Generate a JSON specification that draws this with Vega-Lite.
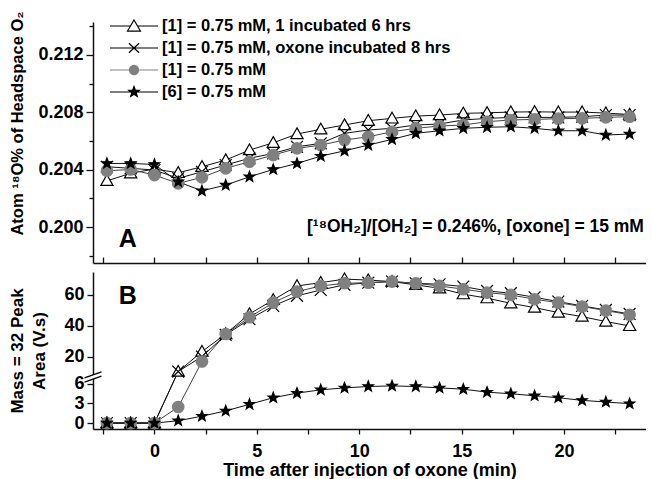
{
  "$schema": "https://vega.github.io/schema/vega-lite/v6.json",
  "background": "white",
  "autosize": {"type": "pad"},
  "padding": {"left": 8, "top": 10, "right": 0, "bottom": 0},
  "spacing": 9,
  "bounds": "flush",
  "datasets": {
    "d": [
      {"s": "[1] = 0.75 mM, 1 incubated 6 hrs", "t": -2.32, "o18": 0.20323, "area": 0},
      {"s": "[1] = 0.75 mM, 1 incubated 6 hrs", "t": -1.16, "o18": 0.20375, "area": 0},
      {"s": "[1] = 0.75 mM, 1 incubated 6 hrs", "t": 0, "o18": 0.20405, "area": 0},
      {"s": "[1] = 0.75 mM, 1 incubated 6 hrs", "t": 1.16, "o18": 0.20379, "area": 10.5},
      {"s": "[1] = 0.75 mM, 1 incubated 6 hrs", "t": 2.32, "o18": 0.20421, "area": 23.4},
      {"s": "[1] = 0.75 mM, 1 incubated 6 hrs", "t": 3.48, "o18": 0.20468, "area": 34.8},
      {"s": "[1] = 0.75 mM, 1 incubated 6 hrs", "t": 4.64, "o18": 0.20537, "area": 47.7},
      {"s": "[1] = 0.75 mM, 1 incubated 6 hrs", "t": 5.8, "o18": 0.20588, "area": 56.8},
      {"s": "[1] = 0.75 mM, 1 incubated 6 hrs", "t": 6.96, "o18": 0.20649, "area": 65.8},
      {"s": "[1] = 0.75 mM, 1 incubated 6 hrs", "t": 8.12, "o18": 0.20682, "area": 67.9},
      {"s": "[1] = 0.75 mM, 1 incubated 6 hrs", "t": 9.28, "o18": 0.20712, "area": 70.2},
      {"s": "[1] = 0.75 mM, 1 incubated 6 hrs", "t": 10.44, "o18": 0.20742, "area": 69.6},
      {"s": "[1] = 0.75 mM, 1 incubated 6 hrs", "t": 11.6, "o18": 0.20758, "area": 68.6},
      {"s": "[1] = 0.75 mM, 1 incubated 6 hrs", "t": 12.76, "o18": 0.20774, "area": 66.5},
      {"s": "[1] = 0.75 mM, 1 incubated 6 hrs", "t": 13.92, "o18": 0.20781, "area": 64.3},
      {"s": "[1] = 0.75 mM, 1 incubated 6 hrs", "t": 15.08, "o18": 0.20793, "area": 60.5},
      {"s": "[1] = 0.75 mM, 1 incubated 6 hrs", "t": 16.24, "o18": 0.20797, "area": 57.9},
      {"s": "[1] = 0.75 mM, 1 incubated 6 hrs", "t": 17.4, "o18": 0.20802, "area": 54.6},
      {"s": "[1] = 0.75 mM, 1 incubated 6 hrs", "t": 18.56, "o18": 0.20804, "area": 51.8},
      {"s": "[1] = 0.75 mM, 1 incubated 6 hrs", "t": 19.72, "o18": 0.20802, "area": 48.6},
      {"s": "[1] = 0.75 mM, 1 incubated 6 hrs", "t": 20.88, "o18": 0.20802, "area": 46},
      {"s": "[1] = 0.75 mM, 1 incubated 6 hrs", "t": 22.04, "o18": 0.20795, "area": 42.8},
      {"s": "[1] = 0.75 mM, 1 incubated 6 hrs", "t": 23.2, "o18": 0.20785, "area": 40},
      {"s": "[1] = 0.75 mM, oxone incubated 8 hrs", "t": -2.32, "o18": 0.20421, "area": 0},
      {"s": "[1] = 0.75 mM, oxone incubated 8 hrs", "t": -1.16, "o18": 0.2041, "area": 0},
      {"s": "[1] = 0.75 mM, oxone incubated 8 hrs", "t": 0, "o18": 0.20398, "area": 0},
      {"s": "[1] = 0.75 mM, oxone incubated 8 hrs", "t": 1.16, "o18": 0.2034, "area": 10.5},
      {"s": "[1] = 0.75 mM, oxone incubated 8 hrs", "t": 2.32, "o18": 0.20386, "area": 20.2},
      {"s": "[1] = 0.75 mM, oxone incubated 8 hrs", "t": 3.48, "o18": 0.20433, "area": 34.2},
      {"s": "[1] = 0.75 mM, oxone incubated 8 hrs", "t": 4.64, "o18": 0.2048, "area": 44.3},
      {"s": "[1] = 0.75 mM, oxone incubated 8 hrs", "t": 5.8, "o18": 0.20514, "area": 52.9},
      {"s": "[1] = 0.75 mM, oxone incubated 8 hrs", "t": 6.96, "o18": 0.2056, "area": 59.4},
      {"s": "[1] = 0.75 mM, oxone incubated 8 hrs", "t": 8.12, "o18": 0.20584, "area": 63.2},
      {"s": "[1] = 0.75 mM, oxone incubated 8 hrs", "t": 9.28, "o18": 0.20654, "area": 66.5},
      {"s": "[1] = 0.75 mM, oxone incubated 8 hrs", "t": 10.44, "o18": 0.20677, "area": 67.9},
      {"s": "[1] = 0.75 mM, oxone incubated 8 hrs", "t": 11.6, "o18": 0.20689, "area": 68.6},
      {"s": "[1] = 0.75 mM, oxone incubated 8 hrs", "t": 12.76, "o18": 0.20712, "area": 67.5},
      {"s": "[1] = 0.75 mM, oxone incubated 8 hrs", "t": 13.92, "o18": 0.20719, "area": 66.9},
      {"s": "[1] = 0.75 mM, oxone incubated 8 hrs", "t": 15.08, "o18": 0.20747, "area": 65.4},
      {"s": "[1] = 0.75 mM, oxone incubated 8 hrs", "t": 16.24, "o18": 0.20758, "area": 62.6},
      {"s": "[1] = 0.75 mM, oxone incubated 8 hrs", "t": 17.4, "o18": 0.20765, "area": 61.1},
      {"s": "[1] = 0.75 mM, oxone incubated 8 hrs", "t": 18.56, "o18": 0.20765, "area": 58.5},
      {"s": "[1] = 0.75 mM, oxone incubated 8 hrs", "t": 19.72, "o18": 0.20765, "area": 55.7},
      {"s": "[1] = 0.75 mM, oxone incubated 8 hrs", "t": 20.88, "o18": 0.2077, "area": 52.9},
      {"s": "[1] = 0.75 mM, oxone incubated 8 hrs", "t": 22.04, "o18": 0.20781, "area": 50.3},
      {"s": "[1] = 0.75 mM, oxone incubated 8 hrs", "t": 23.2, "o18": 0.20781, "area": 47.7},
      {"s": "[1] = 0.75 mM", "t": -2.32, "o18": 0.20393, "area": 0},
      {"s": "[1] = 0.75 mM", "t": -1.16, "o18": 0.20402, "area": 0},
      {"s": "[1] = 0.75 mM", "t": 0, "o18": 0.20363, "area": 0},
      {"s": "[1] = 0.75 mM", "t": 1.16, "o18": 0.20305, "area": 2.44},
      {"s": "[1] = 0.75 mM", "t": 2.32, "o18": 0.20347, "area": 17},
      {"s": "[1] = 0.75 mM", "t": 3.48, "o18": 0.2041, "area": 34.8},
      {"s": "[1] = 0.75 mM", "t": 4.64, "o18": 0.20456, "area": 45.6},
      {"s": "[1] = 0.75 mM", "t": 5.8, "o18": 0.20502, "area": 55},
      {"s": "[1] = 0.75 mM", "t": 6.96, "o18": 0.20549, "area": 62.1},
      {"s": "[1] = 0.75 mM", "t": 8.12, "o18": 0.20572, "area": 65.8},
      {"s": "[1] = 0.75 mM", "t": 9.28, "o18": 0.20607, "area": 67.5},
      {"s": "[1] = 0.75 mM", "t": 10.44, "o18": 0.2063, "area": 67.9},
      {"s": "[1] = 0.75 mM", "t": 11.6, "o18": 0.20665, "area": 68.6},
      {"s": "[1] = 0.75 mM", "t": 12.76, "o18": 0.20689, "area": 67.5},
      {"s": "[1] = 0.75 mM", "t": 13.92, "o18": 0.20705, "area": 65.8},
      {"s": "[1] = 0.75 mM", "t": 15.08, "o18": 0.20712, "area": 63.7},
      {"s": "[1] = 0.75 mM", "t": 16.24, "o18": 0.20735, "area": 61.5},
      {"s": "[1] = 0.75 mM", "t": 17.4, "o18": 0.20747, "area": 60},
      {"s": "[1] = 0.75 mM", "t": 18.56, "o18": 0.20751, "area": 57.2},
      {"s": "[1] = 0.75 mM", "t": 19.72, "o18": 0.20756, "area": 55},
      {"s": "[1] = 0.75 mM", "t": 20.88, "o18": 0.20758, "area": 52.5},
      {"s": "[1] = 0.75 mM", "t": 22.04, "o18": 0.20765, "area": 49.9},
      {"s": "[1] = 0.75 mM", "t": 23.2, "o18": 0.2077, "area": 47.2},
      {"s": "[6] = 0.75 mM", "t": -2.32, "o18": 0.20444, "area": 0},
      {"s": "[6] = 0.75 mM", "t": -1.16, "o18": 0.20444, "area": 0},
      {"s": "[6] = 0.75 mM", "t": 0, "o18": 0.20437, "area": 0},
      {"s": "[6] = 0.75 mM", "t": 1.16, "o18": 0.20316, "area": 0.35},
      {"s": "[6] = 0.75 mM", "t": 2.32, "o18": 0.20253, "area": 1.05},
      {"s": "[6] = 0.75 mM", "t": 3.48, "o18": 0.20293, "area": 1.85},
      {"s": "[6] = 0.75 mM", "t": 4.64, "o18": 0.20351, "area": 2.85},
      {"s": "[6] = 0.75 mM", "t": 5.8, "o18": 0.20402, "area": 3.85},
      {"s": "[6] = 0.75 mM", "t": 6.96, "o18": 0.20444, "area": 4.55},
      {"s": "[6] = 0.75 mM", "t": 8.12, "o18": 0.20495, "area": 5.05},
      {"s": "[6] = 0.75 mM", "t": 9.28, "o18": 0.20532, "area": 5.35},
      {"s": "[6] = 0.75 mM", "t": 10.44, "o18": 0.20572, "area": 5.55},
      {"s": "[6] = 0.75 mM", "t": 11.6, "o18": 0.20612, "area": 5.65},
      {"s": "[6] = 0.75 mM", "t": 12.76, "o18": 0.20654, "area": 5.55},
      {"s": "[6] = 0.75 mM", "t": 13.92, "o18": 0.20672, "area": 5.35},
      {"s": "[6] = 0.75 mM", "t": 15.08, "o18": 0.20689, "area": 5.15},
      {"s": "[6] = 0.75 mM", "t": 16.24, "o18": 0.20696, "area": 4.7},
      {"s": "[6] = 0.75 mM", "t": 17.4, "o18": 0.207, "area": 4.45},
      {"s": "[6] = 0.75 mM", "t": 18.56, "o18": 0.20689, "area": 4.15},
      {"s": "[6] = 0.75 mM", "t": 19.72, "o18": 0.20672, "area": 3.85},
      {"s": "[6] = 0.75 mM", "t": 20.88, "o18": 0.20672, "area": 3.45},
      {"s": "[6] = 0.75 mM", "t": 22.04, "o18": 0.20642, "area": 3.2},
      {"s": "[6] = 0.75 mM", "t": 23.2, "o18": 0.20649, "area": 2.95}
    ],
    "notesA": [
      {"label": "A", "x": -1.3, "y": 0.1992, "kind": "panel"},
      {"label": "[¹⁸OH₂]/[OH₂] = 0.246%, [oxone] = 15 mM", "x": 23.9, "y": 0.2, "kind": "cond"}
    ],
    "notesB": [
      {"label": "B", "x": -1.3, "y": 59.4}
    ],
    "brk": [
      {"x": -3, "y": 7}
    ]
  },
  "data": {"name": "d"},
  "vconcat": [
    {
      "width": 553,
      "height": 241,
      "encoding": {
        "x": {"field": "t", "type": "quantitative",
          "scale": {"domain": [-3, 24], "nice": false, "zero": false},
          "axis": {"title": null, "labels": false, "tickSize": -6,
            "values": [-2.5, 0, 2.5, 5, 7.5, 10, 12.5, 15, 17.5, 20, 22.5]}},
        "y": {"field": "o18", "type": "quantitative",
          "scale": {"domain": [0.1975, 0.2143], "nice": false, "zero": false},
          "axis": {"title": "Atom ¹⁸O% of Headspace O₂",
            "values": [0.198, 0.2, 0.202, 0.204, 0.206, 0.208, 0.21, 0.212, 0.214],
            "labelExpr": "round(datum.value*1000) % 4 == 0 ? format(datum.value, '.3f') : ''",
            "tickSize": {"condition": {"test": "round(datum.value*1000) % 4 == 0", "value": 7}, "value": 4},
            "labelPadding": 3, "titleX": -71, "titleY": 101, "titleBaseline": "alphabetic", "titleAngle": 270, "titleFontSize": 16.5}}
      },
      "layer": [
        {
          "mark": {"type": "line", "strokeWidth": 1},
          "encoding": {
            "stroke": {"field": "s", "type": "nominal", "legend": null,
              "scale": {"domain": ["[1] = 0.75 mM, 1 incubated 6 hrs", "[1] = 0.75 mM, oxone incubated 8 hrs", "[1] = 0.75 mM", "[6] = 0.75 mM"],
                "range": ["#111", "#111", "#444", "#111"]}}
          }
        },
        {
          "mark": {"type": "point", "opacity": 1, "strokeWidth": 1.2},
          "encoding": {
            "shape": {"field": "s", "type": "nominal", "legend": null,
              "scale": {"domain": ["[1] = 0.75 mM, 1 incubated 6 hrs", "[1] = 0.75 mM, oxone incubated 8 hrs", "[1] = 0.75 mM", "[6] = 0.75 mM"],
                "range": ["M0,-1L1,0.75L-1,0.75Z", "M-1,-1L1,1M-1,1L1,-1", "circle", "M0,-1L0.245,-0.337L0.951,-0.309L0.397,0.129L0.588,0.809L0,0.42L-0.588,0.809L-0.397,0.129L-0.951,-0.309L-0.245,-0.337Z"]}},
            "fill": {"field": "s", "type": "nominal", "legend": null,
              "scale": {"domain": ["[1] = 0.75 mM, 1 incubated 6 hrs", "[1] = 0.75 mM, oxone incubated 8 hrs", "[1] = 0.75 mM", "[6] = 0.75 mM"],
                "range": ["white", "transparent", "#808080", "black"]}},
            "stroke": {"field": "s", "type": "nominal", "legend": null,
              "scale": {"domain": ["[1] = 0.75 mM, 1 incubated 6 hrs", "[1] = 0.75 mM, oxone incubated 8 hrs", "[1] = 0.75 mM", "[6] = 0.75 mM"],
                "range": ["black", "black", "#808080", "black"]}},
            "size": {"field": "s", "type": "nominal", "legend": null,
              "scale": {"domain": ["[1] = 0.75 mM, 1 incubated 6 hrs", "[1] = 0.75 mM, oxone incubated 8 hrs", "[1] = 0.75 mM", "[6] = 0.75 mM"],
                "range": [150, 121, 81, 125]}}
          }
        },
        {
          "transform": [{"filter": "false"}],
          "mark": {"type": "point", "opacity": 1},
          "encoding": {
            "shape": {"field": "s", "type": "nominal",
              "scale": {"domain": ["[1] = 0.75 mM, 1 incubated 6 hrs", "[1] = 0.75 mM, oxone incubated 8 hrs", "[1] = 0.75 mM", "[6] = 0.75 mM"],
                "range": [
                  "M-3,0H-1.29M-0.71,0H1M-1,-0.5L-0.46,0.42L-1.54,0.42Z",
                  "M-3,0H1M-1.42,-0.4L-0.58,0.4M-1.42,0.4L-0.58,-0.4",
                  "M-3,0H-1.38M-0.62,0H1M-0.62,0A0.38,0.38,0,1,1,-1.38,0A0.38,0.38,0,1,1,-0.62,0Z",
                  "M-3,0H1M-1,-0.46L-0.887,-0.155L-0.5625,-0.142L-0.817,0.059L-0.73,0.372L-1,0.193L-1.27,0.372L-1.183,0.059L-1.4375,-0.142L-1.113,-0.155Z"]},
              "legend": {"title": null, "orient": "none", "legendX": 40, "legendY": -9,
                "symbolSize": 576, "symbolStrokeWidth": 1.2, "symbolOpacity": 1,
                "labelFontSize": 16.5, "labelFontWeight": "bold", "labelColor": "black", "labelFont": "Liberation Sans",
                "labelOffset": 3, "rowPadding": 0, "padding": 0, "labelLimit": 0}},
            "fill": {"field": "s", "type": "nominal",
              "scale": {"domain": ["[1] = 0.75 mM, 1 incubated 6 hrs", "[1] = 0.75 mM, oxone incubated 8 hrs", "[1] = 0.75 mM", "[6] = 0.75 mM"],
                "range": ["white", "transparent", "#808080", "black"]}},
            "stroke": {"field": "s", "type": "nominal",
              "scale": {"domain": ["[1] = 0.75 mM, 1 incubated 6 hrs", "[1] = 0.75 mM, oxone incubated 8 hrs", "[1] = 0.75 mM", "[6] = 0.75 mM"],
                "range": ["black", "black", "#808080", "black"]}}
          }
        },
        {
          "data": {"name": "notesA"},
          "transform": [{"filter": "datum.kind == 'panel'"}],
          "mark": {"type": "text", "fontSize": 25, "fontWeight": "bold", "align": "center", "baseline": "middle", "font": "Liberation Sans", "color": "black"},
          "encoding": {"x": {"field": "x", "type": "quantitative"}, "y": {"field": "y", "type": "quantitative"}, "text": {"field": "label"}}
        },
        {
          "data": {"name": "notesA"},
          "transform": [{"filter": "datum.kind == 'cond'"}],
          "mark": {"type": "text", "fontSize": 17.5, "fontWeight": "bold", "align": "right", "baseline": "middle", "font": "Liberation Sans", "color": "black"},
          "encoding": {"x": {"field": "x", "type": "quantitative"}, "y": {"field": "y", "type": "quantitative"}, "text": {"field": "label"}}
        }
      ],
      "resolve": {"scale": {"shape": "independent", "fill": "independent", "stroke": "independent", "size": "independent"}}
    },
    {
      "width": 553,
      "height": 157,
      "encoding": {
        "x": {"field": "t", "type": "quantitative",
          "scale": {"domain": [-3, 24], "nice": false, "zero": false},
          "axis": {"title": "Time after injection of oxone (min)",
            "values": [-2.5, 0, 2.5, 5, 7.5, 10, 12.5, 15, 17.5, 20, 22.5],
            "labelExpr": "datum.value % 5 == 0 ? datum.label : ''",
            "tickSize": 5, "labelPadding": 8, "titlePadding": 1, "labelFlush": false}},
        "y": {"field": "area", "type": "quantitative",
          "scale": {"domain": [-0.9, 7, 74.8], "range": [157, 105, 0], "nice": false, "zero": false},
          "axis": {"title": ["Mass = 32 Peak", "Area (V.s)"], "values": [0, 3, 6, 20, 40, 60],
            "tickSize": 6, "labelPadding": 3, "titleX": -71, "titleBaseline": "alphabetic", "titleLineHeight": 22, "titleAngle": 270, "titleFontSize": 17}}
      },
      "layer": [
        {
          "mark": {"type": "line", "strokeWidth": 1},
          "encoding": {
            "stroke": {"field": "s", "type": "nominal", "legend": null,
              "scale": {"domain": ["[1] = 0.75 mM, 1 incubated 6 hrs", "[1] = 0.75 mM, oxone incubated 8 hrs", "[1] = 0.75 mM", "[6] = 0.75 mM"],
                "range": ["#111", "#111", "#444", "#111"]}}
          }
        },
        {
          "mark": {"type": "point", "opacity": 1, "strokeWidth": 1.2},
          "encoding": {
            "shape": {"field": "s", "type": "nominal", "legend": null,
              "scale": {"domain": ["[1] = 0.75 mM, 1 incubated 6 hrs", "[1] = 0.75 mM, oxone incubated 8 hrs", "[1] = 0.75 mM", "[6] = 0.75 mM"],
                "range": ["M0,-1L1,0.75L-1,0.75Z", "M-1,-1L1,1M-1,1L1,-1", "circle", "M0,-1L0.245,-0.337L0.951,-0.309L0.397,0.129L0.588,0.809L0,0.42L-0.588,0.809L-0.397,0.129L-0.951,-0.309L-0.245,-0.337Z"]}},
            "fill": {"field": "s", "type": "nominal", "legend": null,
              "scale": {"domain": ["[1] = 0.75 mM, 1 incubated 6 hrs", "[1] = 0.75 mM, oxone incubated 8 hrs", "[1] = 0.75 mM", "[6] = 0.75 mM"],
                "range": ["white", "transparent", "#808080", "black"]}},
            "stroke": {"field": "s", "type": "nominal", "legend": null,
              "scale": {"domain": ["[1] = 0.75 mM, 1 incubated 6 hrs", "[1] = 0.75 mM, oxone incubated 8 hrs", "[1] = 0.75 mM", "[6] = 0.75 mM"],
                "range": ["black", "black", "#808080", "black"]}},
            "size": {"field": "s", "type": "nominal", "legend": null,
              "scale": {"domain": ["[1] = 0.75 mM, 1 incubated 6 hrs", "[1] = 0.75 mM, oxone incubated 8 hrs", "[1] = 0.75 mM", "[6] = 0.75 mM"],
                "range": [150, 121, 81, 125]}}
          }
        },
        {
          "data": {"name": "brk"},
          "mark": {"type": "point", "shape": "M-0.4,-0.11L0.4,-0.39L0.4,0.11L-0.4,0.39Z", "size": 289, "fill": "white", "filled": true, "opacity": 1, "strokeWidth": 0},
          "encoding": {"x": {"field": "x", "type": "quantitative"}, "y": {"field": "y", "type": "quantitative"}}
        },
        {
          "data": {"name": "brk"},
          "mark": {"type": "point", "shape": "M-1,0.1L1,-0.6M-1,0.6L1,-0.1", "size": 289, "stroke": "black", "strokeWidth": 1.3, "opacity": 1},
          "encoding": {"x": {"field": "x", "type": "quantitative"}, "y": {"field": "y", "type": "quantitative"}}
        },
        {
          "data": {"name": "notesB"},
          "mark": {"type": "text", "fontSize": 25, "fontWeight": "bold", "align": "center", "baseline": "middle", "font": "Liberation Sans", "color": "black"},
          "encoding": {"x": {"field": "x", "type": "quantitative"}, "y": {"field": "y", "type": "quantitative"}, "text": {"field": "label"}}
        }
      ],
      "resolve": {"scale": {"shape": "independent", "fill": "independent", "stroke": "independent", "size": "independent"}}
    }
  ],
  "config": {
    "font": "Liberation Sans",
    "view": {"stroke": null},
    "axis": {
      "grid": false,
      "labelFont": "Liberation Sans", "labelFontSize": 18, "labelFontWeight": "bold", "labelColor": "black",
      "titleFont": "Liberation Sans", "titleFontSize": 18, "titleFontWeight": "bold", "titleColor": "black",
      "domainColor": "#111", "domainWidth": 1.5, "tickColor": "#111", "tickWidth": 1.3, "labelOverlap": false
    }
  }
}
